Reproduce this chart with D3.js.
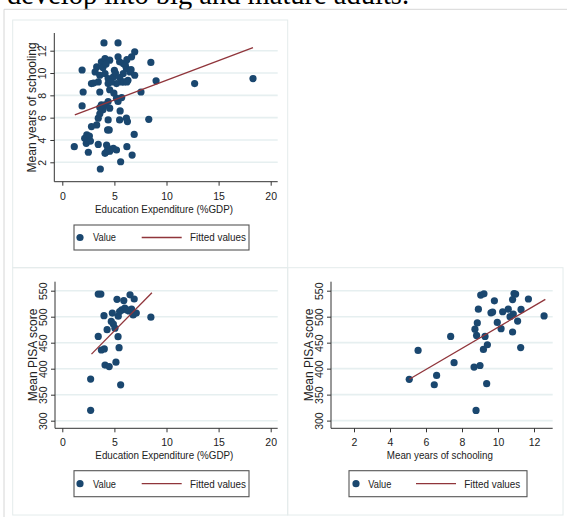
<!DOCTYPE html>
<html>
<head>
<meta charset="utf-8">
<script src="https://cdn.jsdelivr.net/npm/d3@7"></script>
<style>
body{margin:0;background:#fff;}
svg text{font-family:"Liberation Sans",Arial,sans-serif;fill:#222;}
</style>
</head>
<body>
<svg id="chart" width="567" height="517"></svg>
<script>
// ---- data ----
// panel 1: education expenditure (%GDP) vs mean years of schooling
var expA = [4.0,5.35,18.3,12.7,8.5,9.0,7.55,8.3,6.9,6.7,6.2,5.6,3.65,1.15,2.5,1.9,2.0,1.9,6.95,6.65,
  3.75,4.1,4.55,5.35,5.5,5.85,6.15,3.3,3.15,3.6,4.1,4.4,4.9,5.0,5.85,6.5,6.95,6.3,5.7,2.8,3.45,4.4,4.55,5.2,3.6,6.2,5.1,3.9,4.7,6.05,6.6,5.5,3.0,4.2,5.9,6.2,
  4.4,4.1,3.9,4.55,5.2,5.35,5.55,5.5,6.15,6.25,4.4,4.35,4.5,3.45,3.3,2.8,3.6,3.75,3.6,5.7,4.95,
  2.35,2.5,2.15,2.3,2.6,2.7,3.45,4.25,4.4,4.9,5.2,4.1,4.55,4.3];
var yrsA = [12.7,12.7,9.5,9.05,10.95,9.3,8.3,5.85,4.5,2.65,3.4,2.05,1.4,3.4,2.9,7.05,8.3,10.27,11.9,11.45,
  11.0,11.3,11.15,11.45,11.0,10.85,10.4,10.55,10.1,9.8,9.95,9.5,9.65,10.25,9.95,10.1,9.8,9.35,9.2,9.05,9.2,9.05,8.5,9.05,8.3,11.2,10.0,10.5,9.2,10.7,10.3,9.6,9.1,10.8,9.2,9.2,
  7.45,7.15,6.7,6.85,7.75,7.45,6.6,5.8,5.95,5.65,5.8,4.9,4.9,5.95,5.35,5.2,6.35,7.15,6.9,7.8,8.2,
  4.45,4.0,4.15,3.7,4.35,3.9,3.6,3.55,3.25,3.25,3.1,2.8,3.0,3.0];
var fitAx = [1.2,18.3], fitAy = [6.24,12.27];

// panel 2: education expenditure (%GDP) vs mean PISA score
var expB = [3.45,3.7,2.72,2.72,5.6,5.15,4.1,4.5,5.45,5.35,3.45,3.75,4.03,4.3,4.0,4.8,4.7,4.9,5.05,5.25,5.9,6.5,6.9,5.7,6.0,6.4,5.37,5.5,6.8,7.1,8.5,6.65,6.2];
var pisaB = [543.5,543.5,320,380,369,412.5,407,404,440.5,461.5,462,436,438,475,502,507,491,486,478,533.5,531,542,534,513,516.5,511,501,510,503.5,507,499,514.5,513];
var fitBx = [2.8,8.6], fitBy = [428,546];

// panel 3: mean years of schooling vs mean PISA score
var yrsC = [5.07,5.56,6.46,6.59,7.37,7.56,8.67,9.0,8.78,9.37,9.19,9.41,9.28,8.72,8.85,8.81,8.91,9.04,9.22,9.8,9.61,9.7,9.96,10.17,10.26,10.57,10.81,10.67,10.85,10.89,10.98,10.81,11.09,11.28,11.26,11.69,12.56];
var pisaC = [379.5,435,369,387,462,411.5,403,406,319.5,371,437,446,462,476,488,464,514.5,541.5,544,530.5,507.5,509,489,477,509.5,514.5,470.5,500,505,544.5,543.5,533,491.5,514,440.5,534,501.5];
var fitCx = [5.07,12.63], fitCy = [379.5,533.2];

// tick values
var expTicks = [0,5,10,15,20];
var yrsTicks = [2,4,6,8,10,12];
var pisaTicks = [300,350,400,450,500,550];
var schoolTicks = [2,4,6,8,10,12];

var legendLabels = ["Value","Fitted values"];

var navy = "#1a476f", maroon = "#90353b";
var svg = d3.select("#chart");

// headline text cut off at the top of the page
svg.append("text").attr("x",7).attr("y",3.5)
  .style("font-family","'Liberation Serif','Times New Roman',serif")
  .style("font-size","28.5px").style("fill","#000")
  .text("develop into big and mature adults.");

// outer frame + panel frames
svg.append("path").attr("d","M4,517V9.3H567").attr("fill","none").attr("stroke","#d6d6d6");
[[12.7,20,275,247.7],[12.7,267.7,275,247.3],[287.7,267.7,275.3,247.3]].forEach(function(r){
  svg.append("rect").attr("x",r[0]).attr("y",r[1]).attr("width",r[2]).attr("height",r[3])
    .attr("fill","none").attr("stroke","#e4ecec");
});

function panel(c){
  var g = svg.append("g");
  var xs = d3.scaleLinear().domain(c.xDom).range(c.xRange);
  var ys = d3.scaleLinear().domain(c.yDom).range(c.yRange);

  // grid
  g.selectAll("line.grid").data(c.yTicks).join("line").attr("class","grid")
    .attr("x1",c.left).attr("x2",c.right)
    .attr("y1",function(d){return ys(d);}).attr("y2",function(d){return ys(d);})
    .attr("stroke","#e6eff0").attr("stroke-width",1.6);

  // points
  g.selectAll("circle").data(c.xs).join("circle")
    .attr("cx",function(d){return xs(d);})
    .attr("cy",function(d,i){return ys(c.ys[i]);})
    .attr("r",3.6).attr("fill",navy);

  // fitted line
  g.append("path").attr("d",d3.line()(c.fx.map(function(d,i){return [xs(d),ys(c.fy[i])];})))
    .attr("stroke",maroon).attr("stroke-width",1.3).attr("fill","none");

  // x axis
  var xa = g.append("g").attr("transform","translate(0,"+c.bottom+")")
    .call(d3.axisBottom(xs).tickValues(c.xTicks).tickSize(4).tickFormat(d3.format("d")));
  xa.select(".domain").remove();
  xa.append("line").attr("x1",c.left).attr("x2",c.right).attr("stroke","#333");
  xa.selectAll(".tick line").attr("stroke","#333");
  xa.selectAll(".tick text").attr("y",18).attr("dy",null).style("font-size","10.5px").style("font-family","'Liberation Sans',Arial,sans-serif").attr("fill","#222");

  // y axis
  var ya = g.append("g").attr("transform","translate("+c.left+",0)")
    .call(d3.axisLeft(ys).tickValues(c.yTicks).tickSize(4).tickFormat(d3.format("d")));
  ya.select(".domain").remove();
  ya.append("line").attr("y1",c.top).attr("y2",c.bottom).attr("stroke","#333");
  ya.selectAll(".tick line").attr("stroke","#333");
  ya.selectAll(".tick text").attr("transform","rotate(-90)").attr("x",0).attr("y",-8).attr("dy",null)
    .attr("text-anchor","middle").style("font-size","10.5px").style("font-family","'Liberation Sans',Arial,sans-serif").attr("fill","#222");

  // titles
  g.append("text").attr("x",(c.left+c.right)/2 - 2).attr("y",c.bottom+31).attr("text-anchor","middle")
    .attr("textLength",c.xTitleLen).attr("lengthAdjust","spacingAndGlyphs")
    .style("font-size","11.5px").text(c.xTitle);
  g.append("text").attr("transform","translate("+(c.left-22.5)+","+((c.top+c.bottom)/2)+") rotate(-90)")
    .attr("text-anchor","middle").attr("dy","0.35em")
    .style("font-size","12px").text(c.yTitle);

  // legend
  var L = c.legend;
  var lg = g.append("g");
  lg.append("rect").attr("x",L.x).attr("y",L.y).attr("width",L.w).attr("height",L.h)
    .attr("fill","#fff").attr("stroke","#555").attr("stroke-width",1.1);
  var cy = L.y + L.h/2;
  lg.append("circle").attr("cx",L.mx).attr("cy",cy).attr("r",3.6).attr("fill",navy);
  lg.append("text").attr("x",L.vx).attr("y",cy+3.8).style("font-size","11px")
    .attr("textLength",23).attr("lengthAdjust","spacingAndGlyphs").text(legendLabels[0]);
  lg.append("line").attr("x1",L.l1).attr("x2",L.l2).attr("y1",cy).attr("y2",cy)
    .attr("stroke",maroon).attr("stroke-width",1.3);
  lg.append("text").attr("x",L.fx).attr("y",cy+3.8).style("font-size","11px")
    .attr("textLength",56).attr("lengthAdjust","spacingAndGlyphs").text(legendLabels[1]);
}

panel({xs:expA, ys:yrsA, fx:fitAx, fy:fitAy,
  xDom:[0,20], xRange:[62.3,270.7], yDom:[2,12], yRange:[162.3,50.7],
  left:54.3, right:277.7, top:33, bottom:181.7,
  xTicks:expTicks, yTicks:yrsTicks,
  xTitle:"Education Expenditure (%GDP)", xTitleLen:138, yTitle:"Mean years of schooling",
  legend:{x:74,y:225,w:175,h:25,mx:80,vx:93,l1:141.7,l2:181.7,fx:190}});

panel({xs:expB, ys:pisaB, fx:fitBx, fy:fitBy,
  xDom:[0,20], xRange:[62.3,270.7], yDom:[300,550], yRange:[420.7,290.7],
  left:55, right:277.7, top:281.7, bottom:428.3,
  xTicks:expTicks, yTicks:pisaTicks,
  xTitle:"Education Expenditure (%GDP)", xTitleLen:138, yTitle:"Mean PISA score",
  legend:{x:74,y:470.7,w:175,h:26,mx:80,vx:93,l1:141.7,l2:181.7,fx:190}});

panel({xs:yrsC, ys:pisaC, fx:fitCx, fy:fitCy,
  xDom:[2,12], xRange:[354,534], yDom:[300,550], yRange:[420.6,290.7],
  left:331, right:552.7, top:281.7, bottom:428.3,
  xTicks:schoolTicks, yTicks:pisaTicks,
  xTitle:"Mean years of schooling", xTitleLen:106, yTitle:"Mean PISA score",
  legend:{x:349,y:470.7,w:178,h:26,mx:356,vx:368.3,l1:416,l2:456,fx:464.3}});
</script>
</body>
</html>
